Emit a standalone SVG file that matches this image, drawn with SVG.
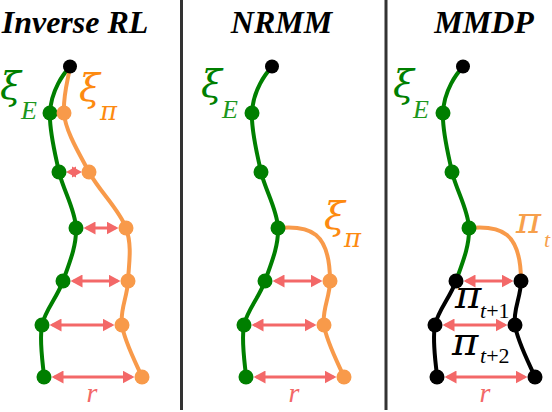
<svg xmlns="http://www.w3.org/2000/svg" width="552" height="412" viewBox="0 0 552 412">
<style>
.title{font-family:"Liberation Serif",serif;font-weight:bold;font-style:italic;font-size:32px;fill:#000;text-anchor:middle}
.gr{font-family:"DejaVu Serif",serif;font-style:italic}
.sym{font-family:"Liberation Serif",serif;font-style:italic}
.up{font-style:normal}
.xi{font-size:38px}
.sub{font-size:26px}
.psub{font-size:26px}
.g{fill:none;stroke:#007f00;stroke-width:4;stroke-linecap:round}
.o{fill:none;stroke:#f89a4a;stroke-width:4;stroke-linecap:round}
.k{fill:none;stroke:#000;stroke-width:4;stroke-linecap:round}
.arr{stroke:#f36868;stroke-width:3;marker-start:url(#ah);marker-end:url(#ah)}
.ahd{fill:#f36868}
.dg{fill:#007f00}
.do{fill:#f89a4a}
.dk{fill:#000}
.div{stroke:#333;stroke-width:3}
</style>
<defs>
<marker id="ah" viewBox="0 0 12 13" refX="9" refY="6.5" markerWidth="12" markerHeight="13" markerUnits="userSpaceOnUse" orient="auto-start-reverse">
<path d="M0,0 L12,6.5 L0,13 z" fill="#f36868"/>
</marker>
</defs>
<rect width="552" height="412" fill="#fff"/>
<line class="div" x1="181.5" y1="0" x2="181.5" y2="410"/>
<line class="div" x1="386" y1="0" x2="386" y2="410"/>
<text class="title" x="75" y="33">Inverse RL</text>
<text class="title" x="281.5" y="33">NRMM</text>
<text class="title" x="484" y="33">MMDP</text>

<g id="connectors">
 <g id="conn-irl">
  <path class="g" d="M70,67 C64,73 51,90 50,113 C49,130 54.7,151.8 59,172 C63.3,190.2 75.3,209.7 76,228 C76.7,246.3 68.7,264.7 63,281 C57.3,297.3 45.2,310 42,325 C38.8,342 43.7,368.5 44,377"/>
  <path class="o" d="M70,67 C68,80 63,95 64,113 C65,130 78.7,152.8 89,172 C99.3,191.2 119.5,209.8 126,228 C132.5,246.2 128.7,264.7 128,281 C127.3,297.3 119.7,310 122,325 C124.3,342 138.7,368.5 142,377"/>
  <g id="arr-short">
   <line x1="70" y1="172" x2="78" y2="172" stroke="#f36868" stroke-width="3"/>
   <path class="ahd" d="M66,172 L76,166.5 L76,177.5 z"/>
   <path class="ahd" d="M82,172 L72,166.5 L72,177.5 z"/>
  </g>
  <line class="arr" x1="86.5" y1="228" x2="115.5" y2="228"/>
  <line class="arr" x1="73.5" y1="281" x2="117.5" y2="281"/>
  <line class="arr" x1="52.5" y1="325" x2="111.5" y2="325"/>
  <line class="arr" x1="54.5" y1="377" x2="131.5" y2="377"/>
 </g>
 <g id="conn-nrmm" transform="translate(202,0)">
  <path class="g" d="M70,67 C64,73 51,90 50,113 C49,130 54.7,151.8 59,172 C63.3,190.2 75.3,209.7 76,228 C76.7,246.3 68.7,264.7 63,281 C57.3,297.3 45.2,310 42,325 C38.8,342 43.7,368.5 44,377"/>
  <path class="o" d="M76,228 C108,225 128,232 128,281 C128,297 119.7,310 122,325 C124.3,342 138.7,368.5 142,377"/>
  <line class="arr" x1="73.5" y1="281" x2="117.5" y2="281"/>
  <line class="arr" x1="52.5" y1="325" x2="111.5" y2="325"/>
  <line class="arr" x1="54.5" y1="377" x2="131.5" y2="377"/>
 </g>
 <g id="conn-mmdp" transform="translate(393,0)">
  <path class="g" d="M70,67 C64,73 51,90 50,113 C49,130 54.7,151.8 59,172 C63.3,190.2 75.3,209.7 76,228 C76.7,246.3 68.7,264.7 63,281"/>
  <path class="o" d="M76,228 C108,225 128,232 128,281"/>
  <path class="k" d="M63,281 C57.3,297.3 45.2,310 42,325 C38.8,342 43.7,368.5 44,377"/>
  <path class="k" d="M128,281 C128,297 119.7,310 122,325 C124.3,342 138.7,368.5 142,377"/>
  <line class="arr" x1="73.5" y1="281" x2="117.5" y2="281"/>
  <line class="arr" x1="52.5" y1="325" x2="111.5" y2="325"/>
  <line class="arr" x1="54.5" y1="377" x2="131.5" y2="377"/>
 </g>
</g>

<g id="panel-irl">
 <circle id="irl-start" class="dk" cx="70" cy="66.5" r="7"/>
 <circle id="irl-e1" class="dg" cx="50" cy="113" r="7.5"/>
 <circle id="irl-e2" class="dg" cx="59" cy="172" r="7.5"/>
 <circle id="irl-e3" class="dg" cx="76" cy="228" r="7.5"/>
 <circle id="irl-e4" class="dg" cx="63" cy="281" r="7.5"/>
 <circle id="irl-e5" class="dg" cx="42" cy="325" r="7.5"/>
 <circle id="irl-e6" class="dg" cx="44" cy="377" r="7.5"/>
 <circle id="irl-p1" class="do" cx="64" cy="113" r="7.5"/>
 <circle id="irl-p2" class="do" cx="89" cy="172" r="7.5"/>
 <circle id="irl-p3" class="do" cx="126" cy="228" r="7.5"/>
 <circle id="irl-p4" class="do" cx="128" cy="281" r="7.5"/>
 <circle id="irl-p5" class="do" cx="122" cy="325" r="7.5"/>
 <circle id="irl-p6" class="do" cx="142" cy="377" r="7.5"/>
 <text class="gr xi" x="0" y="99" fill="#007f00">ξ</text>
 <text class="sym sub" x="21" y="119" fill="#1c961c">E</text>
 <text class="gr xi" x="79" y="101" fill="#fd8a10">ξ</text>
 <text class="gr psub" x="100" y="120" fill="#fd8a10">π</text>
 <text class="sym" x="92" y="402" font-size="28" fill="#f36868" text-anchor="middle">r</text>
</g>

<g id="panel-nrmm" transform="translate(202,0)">
 <circle id="nrmm-start" class="dk" cx="70" cy="66.5" r="7"/>
 <circle id="nrmm-e1" class="dg" cx="50" cy="113" r="7.5"/>
 <circle id="nrmm-e2" class="dg" cx="59" cy="172" r="7.5"/>
 <circle id="nrmm-e3" class="dg" cx="76" cy="228" r="7.5"/>
 <circle id="nrmm-e4" class="dg" cx="63" cy="281" r="7.5"/>
 <circle id="nrmm-e5" class="dg" cx="42" cy="325" r="7.5"/>
 <circle id="nrmm-e6" class="dg" cx="44" cy="377" r="7.5"/>
 <circle id="nrmm-p4" class="do" cx="128" cy="281" r="7.5"/>
 <circle id="nrmm-p5" class="do" cx="122" cy="325" r="7.5"/>
 <circle id="nrmm-p6" class="do" cx="142" cy="377" r="7.5"/>
 <text class="gr xi" x="-1" y="97" fill="#007f00">ξ</text>
 <text class="sym sub" x="20" y="118" fill="#1c961c">E</text>
 <text class="gr xi" x="122" y="229" fill="#fd8a10">ξ</text>
 <text class="gr psub" x="142" y="247" fill="#fd8a10">π</text>
 <text class="sym" x="92" y="402" font-size="28" fill="#f36868" text-anchor="middle">r</text>
</g>

<g id="panel-mmdp" transform="translate(393,0)">
 <circle id="mmdp-start" class="dk" cx="70" cy="66.5" r="7"/>
 <circle id="mmdp-e1" class="dg" cx="50" cy="113" r="7.5"/>
 <circle id="mmdp-e2" class="dg" cx="59" cy="172" r="7.5"/>
 <circle id="mmdp-e3" class="dg" cx="76" cy="228" r="7.5"/>
 <circle id="mmdp-a1" class="dk" cx="63" cy="281" r="7.5"/>
 <circle id="mmdp-b1" class="dk" cx="128" cy="281" r="7.5"/>
 <circle id="mmdp-a2" class="dk" cx="42" cy="325" r="7.5"/>
 <circle id="mmdp-b2" class="dk" cx="122" cy="325" r="7.5"/>
 <circle id="mmdp-a3" class="dk" cx="44" cy="377" r="7.5"/>
 <circle id="mmdp-b3" class="dk" cx="142" cy="377" r="7.5"/>
 <text class="gr xi" x="0" y="97" fill="#007f00">ξ</text>
 <text class="sym sub" x="20" y="118" fill="#1c961c">E</text>
 <text class="gr" x="123" y="233" font-size="38" fill="#f7a04c">π</text>
 <text class="sym" x="151" y="247" font-size="22" fill="#f7a04c">t</text>
 <text class="gr" x="62" y="308" font-size="40" fill="#000">π</text>
 <text class="sym" x="87" y="318" font-size="22" fill="#000">t<tspan class="up">+1</tspan></text>
 <text class="gr" x="59" y="355" font-size="40" fill="#000">π</text>
 <text class="sym" x="87" y="363" font-size="22" fill="#000">t<tspan class="up">+2</tspan></text>
 <text class="sym" x="92" y="402" font-size="28" fill="#f36868" text-anchor="middle">r</text>
</g>
</svg>
